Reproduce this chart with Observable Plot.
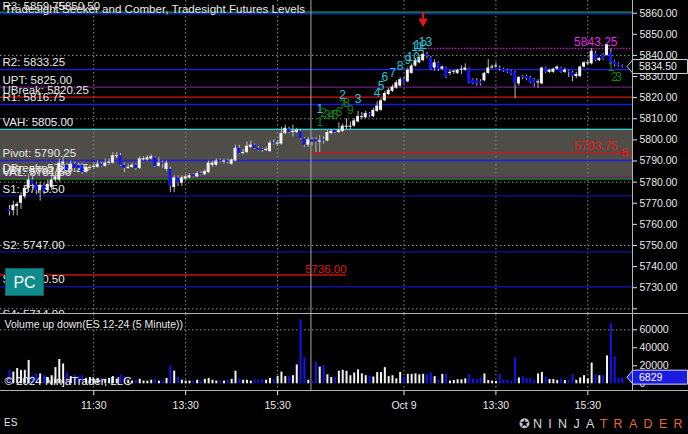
<!DOCTYPE html>
<html>
<head>
<meta charset="utf-8">
<script src="https://cdn.jsdelivr.net/npm/d3@7"></script>
<script src="https://cdn.jsdelivr.net/npm/@observablehq/plot@0.6"></script>
<style>
  html, body { margin:0; padding:0; background:#000; }
  #chart { position:relative; width:688px; height:434px; background:#000; overflow:hidden; font-family:"Liberation Sans", Arial, sans-serif; }
  .pane { position:absolute; left:0; width:688px; overflow:hidden; }
  .pane svg { display:block; }
  .sep { position:absolute; background:#b4b4b4; }
  #pc { position:absolute; left:5px; top:268px; width:39px; height:28px; background:#108b8b; color:#fff; font-size:16px; line-height:27px; text-align:center; border:1px solid #0a6666; box-sizing:border-box; }
  #sym { position:absolute; left:4px; top:417px; color:#e0e0e0; font-size:10px; }
  #logo { position:absolute; left:519px; top:416px; font-size:12.5px; letter-spacing:6.3px; white-space:nowrap; }
  #logo .ic { color:#c8c8c8; letter-spacing:3px; }
  #logo .n { color:#d8d8d8; }
  #logo .t { color:#e2692c; }
</style>
</head>
<body>
<div id="chart">
  <div class="pane" id="pricePane" style="top:0;height:313px"></div>
  <div class="pane" id="volPane" style="top:314px;height:120px"></div>
  <div class="sep" style="left:0;top:313px;width:688px;height:1px"></div>
  <div class="sep" style="left:0;top:390px;width:688px;height:1px"></div>
  <div class="sep" style="left:632px;top:0;width:1px;height:391px"></div>
  <div id="pc">PC</div>
  <div id="sym">ES</div>
  <div id="logo"><span class="ic">✪</span><span class="n">NINJA</span><span class="t">TRADER</span></div>
</div>
<script>
// ---------------- DATA (5-minute ES 12-24 bars) ----------------
const opens = [
  5767, 5766.5, 5768.5, 5770, 5773, 5777, 5781, 5779, 5776, 5778.5,
  5776, 5777.5, 5781, 5781, 5788.5, 5788, 5786, 5788.5, 5788, 5788,
  5785, 5786.5, 5787, 5787, 5788.5, 5787.5, 5789, 5789, 5792, 5792.5,
  5788, 5786.5, 5787, 5788, 5786.5, 5790.5, 5790.5, 5791, 5791.5, 5787.5,
  5789, 5786, 5786, 5777.5, 5782, 5779.5, 5781.5, 5782, 5783.5, 5782.5,
  5784, 5783.5, 5784.5, 5788, 5788, 5790, 5789.5, 5790, 5788.5, 5790,
  5796, 5793.5, 5794, 5796.5, 5797.5, 5796, 5795.5, 5795, 5794.5, 5798.5,
  5798, 5798, 5803, 5805, 5803.5, 5803.5, 5804, 5800.5, 5797.5, 5800,
  5800, 5799, 5800, 5799.5, 5803, 5804.5, 5803.5, 5804, 5806, 5806,
  5806.5, 5808.5, 5810.5, 5810.5, 5812.5, 5811, 5813.5, 5814, 5818.5, 5821.5,
  5823, 5824.5, 5825.5, 5828.5, 5827.5, 5831.5, 5835, 5836.5, 5837.5, 5840.5,
  5839, 5834, 5836.5, 5833.5, 5834, 5831.5, 5832, 5831.5, 5833, 5833,
  5833.5, 5828.5, 5828, 5827.5, 5828, 5831.5, 5834, 5834.5, 5834, 5833.5,
  5833, 5832.5, 5832, 5826.5, 5830, 5830, 5829.5, 5828.5, 5827, 5826.5,
  5834, 5832, 5832, 5833.5, 5834, 5832, 5832.5, 5832, 5830, 5830,
  5834.5, 5836, 5836, 5841, 5837.5, 5840.5, 5840, 5841.5, 5837, 5836,
  5835
];
const highs = [
  5769, 5771, 5770.5, 5775, 5778.5, 5783.5, 5784, 5780, 5780, 5779.5,
  5781, 5782.5, 5785, 5791, 5792, 5789, 5790, 5789.5, 5789, 5789,
  5788.5, 5788, 5789, 5790, 5789.5, 5791, 5791, 5794, 5794, 5793.5,
  5789, 5788.5, 5789, 5788.5, 5792, 5792, 5792.5, 5793, 5792, 5791.5,
  5790, 5790, 5787, 5783, 5783, 5783, 5783.5, 5784, 5784, 5785,
  5785, 5786, 5790, 5790, 5791, 5791, 5791, 5791, 5791, 5797.5,
  5797.5, 5795.5, 5799, 5799.5, 5798, 5797, 5796, 5796.5, 5799.5, 5800,
  5799.5, 5806, 5807, 5806, 5807, 5805.5, 5805, 5801, 5801, 5801,
  5801, 5802, 5801.5, 5804.5, 5805, 5805, 5808, 5807.5, 5810, 5808.5,
  5810, 5813.5, 5813, 5813.5, 5813, 5815, 5818, 5819.5, 5823, 5824.5,
  5826, 5828, 5829.5, 5829.5, 5834, 5836, 5838.5, 5840, 5842.5, 5841.5,
  5839.5, 5838, 5837, 5835, 5834.5, 5833, 5833, 5833.5, 5835, 5836,
  5834, 5829, 5829, 5828.5, 5832, 5838, 5835.5, 5836.5, 5835, 5834,
  5833.5, 5833, 5832.5, 5830, 5830.5, 5830.5, 5830, 5829, 5828.5, 5834.5,
  5834.5, 5833.5, 5834, 5835, 5834.5, 5834, 5833, 5832.5, 5832, 5835,
  5837, 5837.5, 5843.25, 5842, 5839, 5841, 5845, 5843, 5837.5, 5836.5,
  5835.5
];
const lows = [
  5764, 5764, 5764, 5767, 5772, 5776, 5777, 5774, 5771, 5774,
  5775, 5776, 5780, 5780, 5787.5, 5784.5, 5785, 5785, 5785.5, 5783.5,
  5784, 5785.5, 5786, 5786.5, 5787, 5787, 5788, 5788.5, 5791, 5787.5,
  5784.5, 5786, 5786.5, 5785.5, 5786, 5790, 5790, 5790.5, 5787, 5787,
  5786.5, 5785, 5775, 5775, 5778, 5778, 5781, 5781.5, 5782, 5782,
  5783, 5783, 5784, 5787, 5787.5, 5789, 5788.5, 5788.5, 5788, 5789.5,
  5793, 5793, 5793.5, 5796, 5795.5, 5794.5, 5794, 5794.5, 5794, 5797.5,
  5797, 5797.5, 5802.5, 5803, 5801.5, 5803, 5800, 5796.5, 5796.5, 5797,
  5794, 5794, 5798, 5799, 5802.5, 5803, 5803, 5803.5, 5804.5, 5804.5,
  5806, 5808, 5809.5, 5810, 5810.5, 5810.5, 5813, 5813.5, 5818, 5821,
  5822.5, 5824, 5825, 5826.5, 5827, 5831, 5834.5, 5836, 5837, 5838.5,
  5833, 5832.5, 5832.5, 5833, 5829, 5830.5, 5831, 5831, 5831, 5832.5,
  5826.5, 5826, 5825.5, 5825.5, 5827.5, 5831, 5833.5, 5834, 5832.5, 5832,
  5831.5, 5830.5, 5819.5, 5825.5, 5828.5, 5828, 5826.5, 5825, 5824.5, 5826,
  5831.5, 5831.5, 5831.5, 5833, 5831.5, 5831.5, 5829.5, 5827.5, 5829, 5829.5,
  5834, 5835.5, 5835.5, 5837, 5837, 5837.5, 5839.5, 5835.5, 5834.5, 5834.5,
  5834
];
const closes = [
  5766, 5769, 5769.5, 5773.5, 5777, 5781, 5779, 5776, 5778.5, 5775.5,
  5779, 5781, 5782.5, 5789, 5789.5, 5785.5, 5788.5, 5786.5, 5786.5, 5784.5,
  5787, 5787, 5787.5, 5788.5, 5787.5, 5789, 5789.5, 5792.5, 5792.5, 5788,
  5786.5, 5787, 5788, 5786.5, 5791, 5791, 5791.5, 5792, 5787.5, 5789,
  5788.5, 5789, 5778, 5782, 5779.5, 5782, 5782.5, 5783, 5782.5, 5784,
  5783.5, 5785, 5789, 5789, 5790, 5789.5, 5790, 5789.5, 5790.5, 5796,
  5793.5, 5794, 5797, 5797.5, 5796, 5795, 5795, 5795.5, 5798.5, 5798,
  5798.5, 5803, 5805.5, 5803.5, 5804, 5804.5, 5800.5, 5797.5, 5800, 5799,
  5799, 5799.5, 5799.5, 5803.5, 5804, 5803.5, 5804.5, 5806.5, 5806.5, 5806.5,
  5809, 5811, 5811, 5812.5, 5811.5, 5814, 5816, 5818.5, 5822, 5823.5,
  5825, 5827, 5828.5, 5827, 5833, 5835, 5837.5, 5839, 5840.5, 5839.5,
  5833.5, 5836.5, 5833.5, 5834.5, 5829.5, 5832, 5832.5, 5833, 5833.5, 5834,
  5827, 5826.5, 5826.5, 5826.5, 5831.5, 5834, 5834.5, 5835, 5833.5, 5832.5,
  5832, 5831, 5826.5, 5829.5, 5829.5, 5829, 5827, 5826.5, 5827.5, 5834,
  5832, 5833, 5833.5, 5834.5, 5832, 5833, 5832, 5830, 5831, 5834.5,
  5836.5, 5836.5, 5842, 5837.5, 5838.5, 5838, 5845, 5836, 5835.5, 5835,
  5834.5
];
const volumes = [
  15000, 13000, 17000, 15000, 15000, 26000, 9000, 11000, 11000, 9000,
  7000, 9000, 18000, 27000, 22000, 12000, 8000, 10000, 8000, 9000,
  6000, 7000, 5000, 6000, 6000, 5000, 6000, 8000, 5000, 10000,
  8000, 4000, 3000, 4000, 5000, 3000, 3000, 4000, 5000, 3000,
  3000, 6000, 20000, 14000, 7000, 4000, 3000, 3000, 3000, 4000,
  3000, 5000, 6000, 4000, 3000, 3000, 3000, 4000, 5000, 14000,
  5000, 4000, 4000, 3000, 5000, 4000, 5000, 4000, 6000, 5000,
  8000, 13000, 8000, 8000, 9000, 21000, 71000, 29000, 4000, 3000,
  24000, 18500, 20000, 10000, 7000, 7000, 14000, 15000, 14000, 9000,
  12000, 15500, 11000, 9000, 8500, 7500, 12500, 12500, 18000, 8000,
  9000, 5500, 12500, 7500, 10500, 10500, 11000, 10000, 10500, 10000,
  12500, 8000, 4000, 10500, 10500, 3000, 3700, 4500, 4500, 5500,
  10500, 5500, 4500, 6500, 11000, 3700, 3000, 2600, 10500, 3700,
  3700, 2600, 29000, 6500, 8000, 6000, 6000, 3700, 11000, 12500,
  7500, 4800, 4800, 3700, 5500, 3700, 4000, 10500, 3700, 6500,
  9000, 5500, 23000, 10000, 9000, 9000, 31000, 67000, 30000, 6000,
  6829
];

// time axis (bar index of each labelled tick)
const timeTickBars   = [22, 46, 70, 103, 127, 151];
const timeTickLabels = ["11:30", "13:30", "15:30", "Oct 9", "13:30", "15:30"];
const sessionBreakBar = 78.7;

// price axis
const priceTicks = [5720, 5730, 5740, 5750, 5760, 5770, 5780, 5790, 5800, 5810, 5820, 5830, 5840, 5850, 5860];
const priceGrid  = [5720, 5750, 5780, 5810, 5840];
const volumeTicks = [0, 20000, 40000, 60000];
const volumeGrid  = [60000];

// Tradesight futures levels
const levelNames  = ["R3", "R2", "UPT", "UBreak", "R1", "VAH", "Pivot", "DBreak", "LPT", "VAL", "S1", "S2", "S3", "S4"];
const levelValues = [5859.75, 5833.25, 5825.00, 5820.25, 5816.75, 5805.00, 5790.25, 5783.25, 5782.25, 5781.50, 5773.50, 5747.00, 5730.50, 5714.00];
const extraTopLabel = "5850.50";

// partial lines
const pcValue = 5736.00, pcEndBar = 88;
const breakLineValue = 5793.75, breakLineStartBar = 78.7;
const tdstValue = 5843.25, tdstStartBar = 107;

// Seeker countdown (cyan) and setup counts (green)
const countdownBars   = [81, 87, 91, 96, 97, 98, 100, 102, 104, 105.4, 106.5, 107.3, 108.6];
const countdownPrices = [5814.4, 5821.0, 5819.1, 5822.0, 5825.3, 5829.5, 5831.4, 5834.7, 5837.9, 5839.2, 5843.9, 5844.7, 5846.3];
const countdownNums   = ["1","2","3","4","5","6","7","8","9","10","11","12","13"];
const setupBars   = [81, 82, 83, 84, 85, 86, 87, 88, 89, 157, 158, 159];
const setupPrices = [5808.2, 5812.5, 5811.5, 5811.5, 5811.5, 5813.0, 5816.3, 5817.2, 5813.9, 5834.3, 5829.5, 5829.5];
const setupNums   = ["1","2","3","4","5","6","7","8","9","1","2","3"];
const arrowBar = 108;

const chartTitle = "Tradesight Seeker and Comber, Tradesight Futures Levels";
const volumeTitle = "Volume up down(ES 12-24 (5 Minute))";
const copyright = "© 2024 NinjaTrader, LLC";

// ---------------- STYLE ----------------
const FONT = "Liberation Sans, Arial, sans-serif";
const BLUE = "#1414f0";
const WHITE = "#f2f2f2";
const WICK = "#b8b8b8";
const TXT = "#e8e8e8";
const GRID = {stroke: "#8c8c8c", strokeOpacity: 1, strokeDasharray: "1.5,2.5"};
const lineColor = {
  R3: "#1a1ad0", R2: "#1c1cff", UPT: "#6c1c7c", UBreak: "#d41414", R1: "#1818e0",
  VAH: "#22d6d6", Pivot: "#1c1ce6", DBreak: null, LPT: "#6c1c7c", VAL: "#1a8a1a",
  S1: "#10109c", S2: "#10109c", S3: "#10109c", S4: "#10109c"
};
const xDomain = [-2.35, 162.66];

const bars = opens.map((o, i) => ({i, o, h: highs[i], l: lows[i], c: closes[i], v: volumes[i]}));
const isUp = d => d.c >= d.o;
const levels = levelNames.map((name, k) => ({name, value: levelValues[k], label: `${name}: ${levelValues[k].toFixed(2)}`}));
const vah = levelValues[levelNames.indexOf("VAH")];
const val = levelValues[levelNames.indexOf("VAL")];
const tickLabelOf = new Map(timeTickBars.map((b, k) => [b, timeTickLabels[k]]));
const aHigh = highs[arrowBar];

// ---------------- PRICE PANEL ----------------
const pricePlot = Plot.plot({
  width: 688, height: 313,
  marginLeft: 0, marginRight: 56, marginTop: 0, marginBottom: 0,
  style: {background: "#000", color: TXT, fontFamily: FONT, overflow: "hidden"},
  x: {domain: xDomain, axis: null},
  y: {domain: [5717.8, 5866], axis: null},
  color: {type: "identity"},
  marks: [
    Plot.rect([{lo: val, hi: vah}], {x1: xDomain[0], x2: xDomain[1], y1: "lo", y2: "hi", fill: "#4f4d48"}),
    Plot.gridY(priceGrid, GRID),
    Plot.gridX(timeTickBars, GRID),
    Plot.ruleY([levelValues[0]], {stroke: "#18a018", strokeWidth: 1.2, dy: -1.5}),
    Plot.ruleY(levels.filter(d => lineColor[d.name]), {y: "value", stroke: d => lineColor[d.name], strokeWidth: 1.4}),
    Plot.ruleY([pcValue], {x1: xDomain[0], x2: pcEndBar, stroke: "#c41212", strokeWidth: 1.4}),
    Plot.ruleY([breakLineValue], {x1: breakLineStartBar, x2: xDomain[1], stroke: "#d01414", strokeWidth: 1.4}),
    Plot.ruleY([tdstValue], {x1: tdstStartBar, x2: xDomain[1], stroke: "#b81cb8", strokeWidth: 1.4, strokeDasharray: "1.5,1.5"}),
    Plot.ruleX([sessionBreakBar], {stroke: "#a8a8a8"}),
    Plot.text(levels, {y: "value", text: "label", frameAnchor: "left", textAnchor: "start", dx: 2, dy: -7, fill: TXT, fontSize: 11.5}),
    Plot.text([extraTopLabel], {y: levelValues[0], frameAnchor: "left", textAnchor: "start", dx: 58, dy: -7, fill: TXT, fontSize: 11.5}),
    Plot.text([pcValue], {x: pcEndBar, y: d => d, text: d => d.toFixed(2), textAnchor: "end", dy: -6, fill: "#e01616", fontSize: 11.5}),
    Plot.text([breakLineValue], {y: d => d, text: d => d.toFixed(2), frameAnchor: "right", textAnchor: "end", dx: -15, dy: -7, fill: "#e81818", fontSize: 12}),
    Plot.text(["5"], {y: breakLineValue, frameAnchor: "right", textAnchor: "end", dx: -4, dy: 0, fill: "#e81818", fontSize: 13}),
    Plot.text([tdstValue], {y: d => d, text: d => d.toFixed(2), frameAnchor: "right", textAnchor: "end", dx: -15, dy: -6, fill: "#e030e0", fontSize: 12}),
    Plot.text([chartTitle], {frameAnchor: "top-left", dx: 4, dy: 4, lineAnchor: "top", textAnchor: "start", fill: TXT, fontSize: 11.6}),
    // candles
    Plot.ruleX(bars, {x: "i", y1: "l", y2: "h", stroke: WICK}),
    Plot.rect(bars, {
      x1: d => d.i - 0.39, x2: d => d.i + 0.39,
      y1: d => Math.min(d.o, d.c), y2: d => Math.max(d.o, d.c),
      fill: d => isUp(d) ? WHITE : BLUE
    }),
    // counts
    Plot.text(setupNums, {x: (d, k) => setupBars[k], y: (d, k) => setupPrices[k], text: d => d, fill: "#168016", fontSize: 12}),
    Plot.text(countdownNums, {x: (d, k) => countdownBars[k], y: (d, k) => countdownPrices[k], text: d => d, fill: "#22c8d8", fontSize: 12}),
    Plot.ruleX([arrowBar], {x: d => d, y1: aHigh + 17.8, y2: aHigh + 14.5, stroke: "#e01818", strokeWidth: 2}),
    Plot.dot([arrowBar], {x: d => d, y: aHigh + 13.6, symbol: "triangle", rotate: 180, r: 3.6, fill: "#e01818", stroke: "none"}),
    Plot.axisY(priceTicks, {anchor: "right", label: null, tickSize: 4, tickPadding: 3, fontSize: 10.5, tickFormat: d => d === priceTicks[0] ? "" : d.toFixed(2)})
  ]
});
document.getElementById("pricePane").appendChild(pricePlot);

// last price marker
{
  const y = pricePlot.scale("y").apply(closes[closes.length - 1]);
  const svg = d3.select(pricePlot);
  svg.append("path")
    .attr("d", `M627,${y} L633,${y - 7} L687.5,${y - 7} L687.5,${y + 7} L633,${y + 7} Z`)
    .attr("fill", "#000").attr("stroke", "#cfcfcf");
  svg.append("text").attr("x", 639).attr("y", y).attr("dy", "0.35em").attr("text-anchor", "start")
    .attr("fill", "#f0f0f0").attr("font-size", 10.5).attr("font-family", FONT)
    .text(closes[closes.length - 1].toFixed(2));
}

// ---------------- VOLUME PANEL ----------------
const volPlot = Plot.plot({
  width: 688, height: 120,
  marginLeft: 0, marginRight: 56, marginTop: 0, marginBottom: 44,
  style: {background: "transparent", color: TXT, fontFamily: FONT, overflow: "hidden"},
  x: {domain: xDomain, axis: null},
  y: {domain: [-7444, 77000], axis: null},
  color: {type: "identity"},
  marks: [
    Plot.gridY(volumeGrid, GRID),
    Plot.gridX(timeTickBars, GRID),
    Plot.ruleX([sessionBreakBar], {stroke: "#a8a8a8"}),
    Plot.ruleX(bars, {x: "i", y1: 0, y2: "v", stroke: d => isUp(d) ? WHITE : BLUE, strokeWidth: 2}),
    Plot.text([volumeTitle], {frameAnchor: "top-left", dx: 4, dy: 6, lineAnchor: "top", textAnchor: "start", fill: TXT, fontSize: 10.5}),
    Plot.text([copyright], {frameAnchor: "bottom-left", dx: 4, dy: -6, lineAnchor: "bottom", textAnchor: "start", fill: "#f4f4f4", fontSize: 11.5}),
    Plot.axisY(volumeTicks, {anchor: "right", label: null, tickSize: 4, tickPadding: 3, fontSize: 10.5, tickFormat: d => String(d)}),
    Plot.axisX(timeTickBars, {anchor: "bottom", label: null, tickSize: 5, tickPadding: 6, fontSize: 10.5, tickFormat: d => tickLabelOf.get(d)})
  ]
});
document.getElementById("volPane").appendChild(volPlot);

// last volume marker
{
  const v = volumes[volumes.length - 1];
  const y = volPlot.scale("y").apply(v);
  const svg = d3.select(volPlot);
  svg.append("path")
    .attr("d", `M627,${y} L633,${y - 7} L687.5,${y - 7} L687.5,${y + 7} L633,${y + 7} Z`)
    .attr("fill", "#1c1ce0").attr("stroke", "#d8d8ff");
  svg.append("text").attr("x", 639).attr("y", y).attr("dy", "0.35em").attr("text-anchor", "start")
    .attr("fill", "#ffffff").attr("font-size", 10.5).attr("font-family", FONT)
    .text(String(v));
}
</script>
</body>
</html>
